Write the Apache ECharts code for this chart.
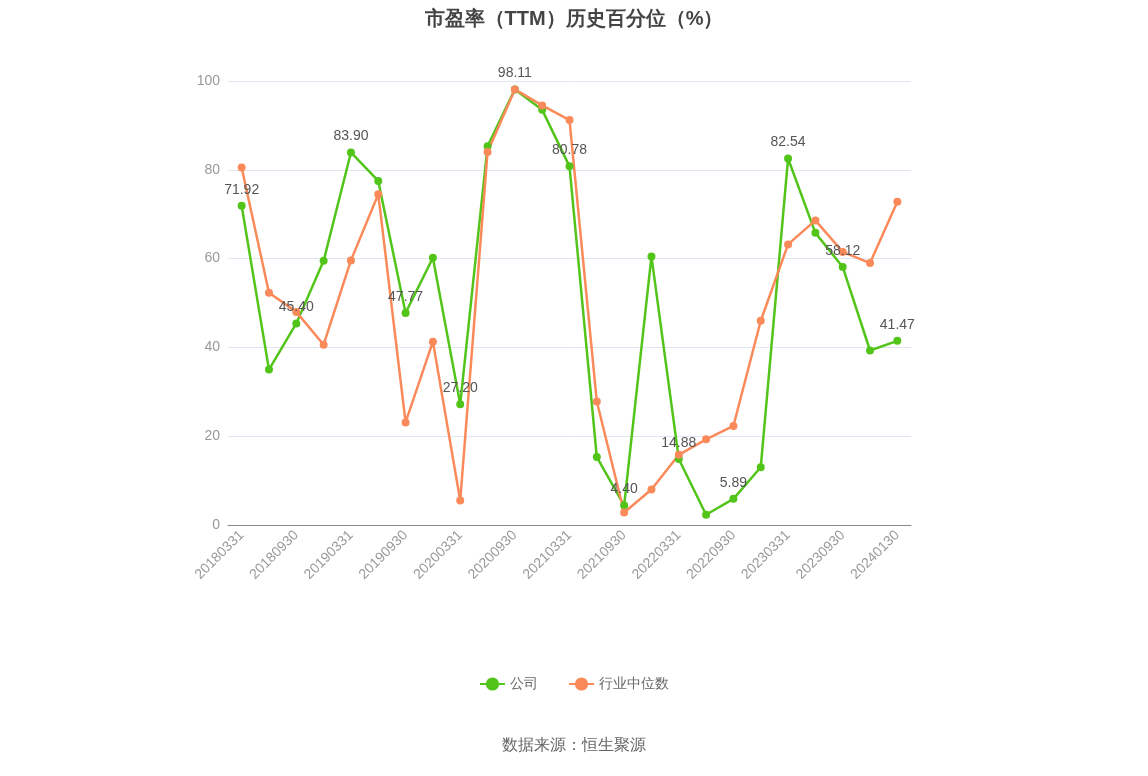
<!DOCTYPE html>
<html><head><meta charset="utf-8">
<script src="https://cdn.jsdelivr.net/npm/echarts@6/dist/echarts.min.js"></script>
<style>html,body{margin:0;padding:0;background:#fff}#c{width:1148px;height:776px}</style>
</head><body><div id="c"></div>
<script>
const categories = ["20180331","20180630","20180930","20181231","20190331","20190630","20190930","20191231","20200331","20200630","20200930","20201231","20210331","20210630","20210930","20211231","20220331","20220630","20220930","20221231","20230331","20230630","20230930","20231231","20240130"];
const company = [71.92,35.0,45.40,59.5,83.90,77.5,47.77,60.2,27.20,85.3,98.11,93.5,80.78,15.3,4.40,60.5,14.88,2.3,5.89,13.0,82.54,65.8,58.12,39.3,41.47];
const industry = [80.5,52.3,48.0,40.6,59.6,74.5,23.1,41.3,5.5,84.0,98.1,94.5,91.2,27.8,2.8,8.0,15.8,19.3,22.3,46.0,63.2,68.6,61.5,59.0,72.8];
const chart = echarts.init(document.getElementById('c'));
chart.setOption({
  title:{text:'市盈率（TTM）历史百分位（%）',left:'center',top:4,textStyle:{fontSize:20,fontWeight:'bold',color:'#444'}},
  legend:{bottom:80,itemGap:30,textStyle:{fontSize:14,color:'#666'},data:['公司','行业中位数']},
  grid:{left:228,right:237,top:81,bottom:251},
  xAxis:{type:'category',data:categories,boundaryGap:true,
    axisLine:{lineStyle:{color:'#888'}},axisTick:{alignWithLabel:true,interval:1},
    axisLabel:{interval:1,rotate:45,fontSize:14,color:'#999'}},
  yAxis:{type:'value',min:0,max:100,interval:20,axisLabel:{fontSize:14,color:'#999'},
    splitLine:{lineStyle:{color:'#e0e6f1'}}},
  graphic:[{type:'text',left:'center',top:738,style:{text:'数据来源：恒生聚源',fontSize:16,fill:'#666'}}],
  series:[
    {name:'公司',type:'line',data:company,symbol:'circle',symbolSize:6,itemStyle:{color:'#52c41a',borderWidth:2,borderColor:'#52c41a'},
     lineStyle:{width:2.5,color:'#52c41a'},
     symbolKeepAspect:true,
     label:{show:true,position:'top',fontSize:14,color:'#555',
       formatter:p=>p.dataIndex%2===0?p.value.toFixed(2):''}},
    {name:'行业中位数',type:'line',data:industry,symbol:'circle',symbolSize:6,itemStyle:{color:'#fa8a5a',borderWidth:2,borderColor:'#fa8a5a'},
     lineStyle:{width:2.5,color:'#fa8a5a'}}
  ]
});
</script></body></html>
